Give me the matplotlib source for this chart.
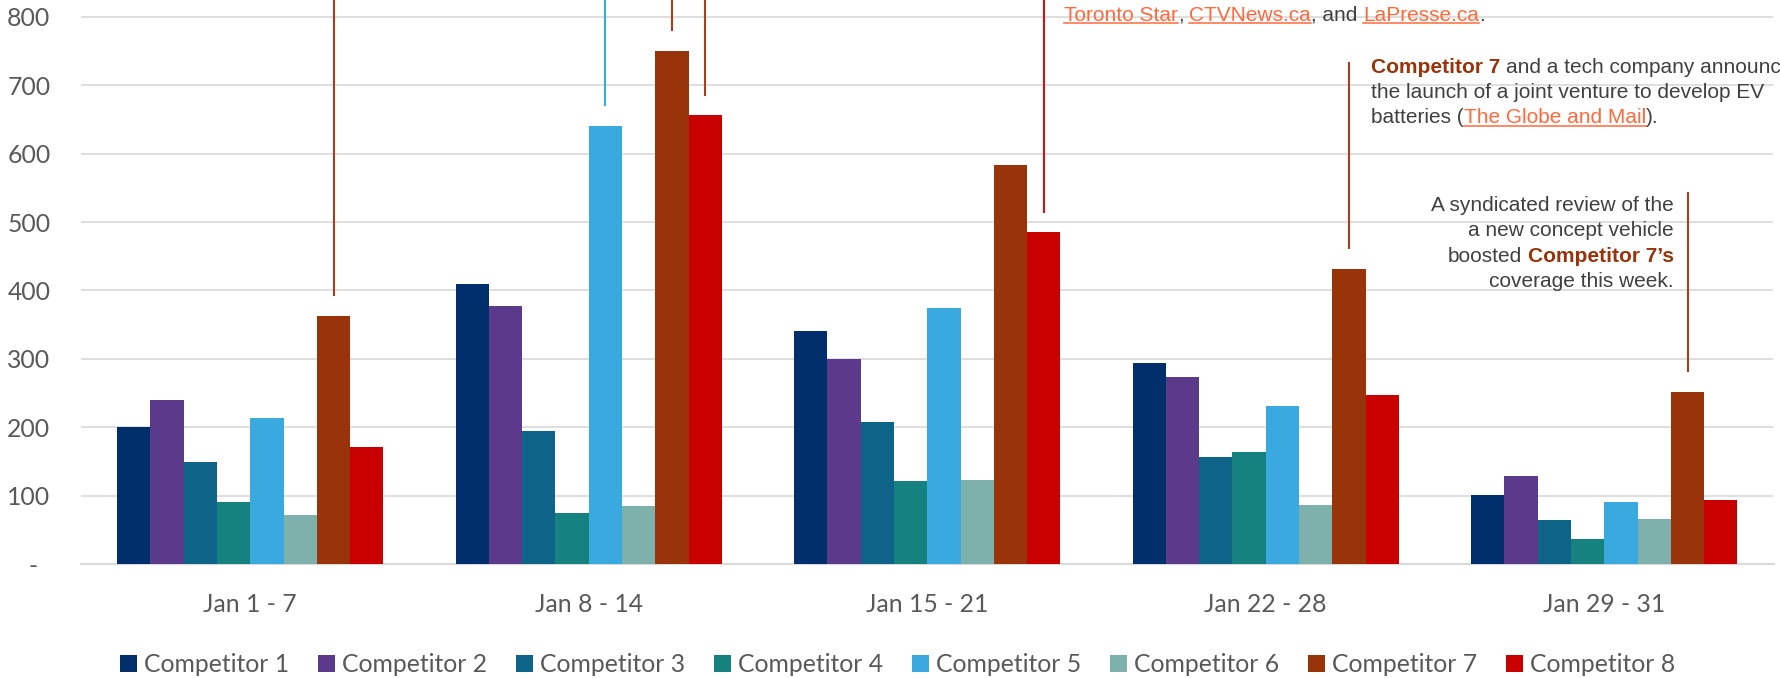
import numpy as np
import matplotlib
matplotlib.use("Agg")
import matplotlib.pyplot as plt
from matplotlib.font_manager import FontProperties
from matplotlib.lines import Line2D
from matplotlib.ticker import FuncFormatter

# weekly coverage counts per competitor
weeks = ["Jan 1 - 7", "Jan 8 - 14", "Jan 15 - 21", "Jan 22 - 28", "Jan 29 - 31"]
competitors = ["Competitor 1", "Competitor 2", "Competitor 3", "Competitor 4",
               "Competitor 5", "Competitor 6", "Competitor 7", "Competitor 8"]
comp1 = [200, 410, 340, 294, 101]
comp2 = [240, 377, 299, 274, 129]
comp3 = [149, 194, 207, 156, 65]
comp4 = [90, 75, 121, 164, 37]
comp5 = [214, 641, 375, 231, 91]
comp6 = [71, 85, 123, 86, 66]
comp7 = [363, 750, 584, 432, 252]
comp8 = [171, 656, 485, 247, 93]
series = [comp1, comp2, comp3, comp4, comp5, comp6, comp7, comp8]
colors = ["#002F6C", "#5B3A8C", "#0E6388", "#168280",
          "#3AA9E0", "#7EB0AC", "#98330A", "#C80000"]

# callout lines: (week index, competitor index, top value or None = to the top)
callouts = [(0, 6, None), (1, 4, None), (1, 6, None), (1, 7, None),
            (2, 7, None), (3, 6, 732), (4, 6, 542)]
callout_colors = ["#A3411C", "#3AA9E0", "#A3411C", "#A3411C",
                  "#D0101A", "#A3411C", "#A3411C"]

W, H = 1781, 678
fig = plt.figure(figsize=(W / 100, H / 100), dpi=100)
ax = fig.add_axes([81 / W, (H - 564) / H, (1773.5 - 81) / W, 564 / H])

bw = 0.0984
x = np.arange(len(weeks))
for j, (vals, c) in enumerate(zip(series, colors)):
    ax.bar(x + (j - 3.5) * bw, vals, width=bw, color=c, label=competitors[j], zorder=3)

ymax = 564 / 0.684
ax.set_xlim(-0.5, len(weeks) - 0.5)
ax.set_ylim(0, ymax)
ax.set_yticks(range(0, 900, 100))
ax.yaxis.set_major_formatter(FuncFormatter(lambda v, p: "-  " if v == 0 else f"{v:.0f}"))
ax.set_xticks(x)
ax.set_xticklabels(weeks)
ax.grid(axis="y", color="#D9D9D9", lw=1.2, zorder=0)
for s in ["top", "left", "right"]:
    ax.spines[s].set_visible(False)
ax.spines["bottom"].set_color("#D9D9D9")
ax.spines["bottom"].set_linewidth(1.5)
ax.tick_params(length=0, labelcolor="#595959", labelsize=17.8)
ax.tick_params(axis="y", pad=22)
ax.tick_params(axis="x", pad=21)
for lab in ax.get_xticklabels() + ax.get_yticklabels():
    lab.set_family("Lato")

for (g, j, top), c in zip(callouts, callout_colors):
    xc = g + (j - 3.5) * bw
    ax.plot([xc, xc], [series[j][g] + 30, top if top else ymax], color=c,
            lw=1.5, clip_on=False, zorder=4)

fig.legend(loc="center", bbox_to_anchor=(0.504, 1 - 665 / H), ncol=8, frameon=False,
           prop=FontProperties(family="Lato", size=17.8), labelcolor="#595959",
           handlelength=0.68, handleheight=0.68, handletextpad=0.3, columnspacing=1.16)

# rich text annotations, positioned in pixels from the top-left corner
renderer = fig.canvas.get_renderer()
TEXT = "#404040"
LINK = "#FF6A3D"
BROWN = "#98330A"
props = {
    "plain": FontProperties(family="Liberation Sans", size=15),
    "link": FontProperties(family="Liberation Sans", size=15),
    "bold": FontProperties(family="Liberation Sans", size=15, weight="bold"),
}
kind_color = {"plain": TEXT, "link": LINK, "bold": BROWN}


def width(s, prop):
    w1 = renderer.get_text_width_height_descent("|" + s + "|", prop, ismath=False)[0]
    w0 = renderer.get_text_width_height_descent("||", prop, ismath=False)[0]
    return w1 - w0


def rich_line(px, py, segs, ha="left"):
    total = sum(width(s, props[k]) for s, k in segs)
    if ha == "right":
        px -= total
    for s, k in segs:
        w = width(s, props[k])
        core = s.strip()
        lead = width(s[:len(s) - len(s.lstrip())], props[k]) if s[:1] == " " else 0
        fig.text((px + lead) / W, 1 - py / H, core, fontproperties=props[k],
                 color=kind_color[k], va="baseline", ha="left")
        if k == "link":
            cw = width(core, props[k])
            fig.add_artist(Line2D([(px + lead) / W, (px + lead + cw) / W],
                                  [1 - (py + 2.5) / H] * 2, color=LINK, lw=1.1))
        px += w


rich_line(1064, 20.7, [("Toronto Star", "link"), (", ", "plain"), ("CTVNews.ca", "link"),
                       (", and ", "plain"), ("LaPresse.ca", "link"), (".", "plain")])

rich_line(1371, 72.7, [("Competitor 7", "bold"), (" and a tech company announces", "plain")])
rich_line(1371, 98.3, [("the launch of a joint venture to develop EV", "plain")])
rich_line(1371, 123.3, [("batteries (", "plain"), ("The Globe and Mail", "link"), (").", "plain")])

rich_line(1674, 211, [("A syndicated review of the", "plain")], ha="right")
rich_line(1674, 236.5, [("a new concept vehicle", "plain")], ha="right")
rich_line(1674, 261.7, [("boosted ", "plain"), ("Competitor 7\u2019s", "bold")], ha="right")
rich_line(1674, 286.7, [("coverage this week.", "plain")], ha="right")

fig.savefig("out.png", dpi=100)
